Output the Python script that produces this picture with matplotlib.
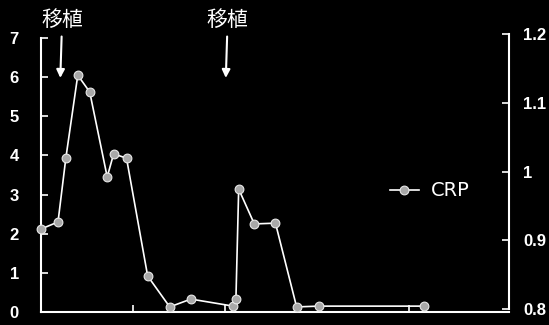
import matplotlib.pyplot as plt

plt.rcParams['font.family'] = ['Liberation Sans', 'DejaVu Sans']

# 日数と CRP 値（左軸）
days = [0, 1.85, 2.7, 4.0, 5.3, 7.2, 7.9, 9.3, 11.6, 14.0, 16.3,
        20.9, 21.2, 21.5, 23.2, 25.5, 27.8, 30.2, 41.7]
crp = [2.12, 2.30, 3.93, 6.05, 5.62, 3.45, 4.04, 3.93, 0.92, 0.13, 0.33,
       0.15, 0.33, 3.14, 2.25, 2.27, 0.13, 0.15, 0.15]

left_ticks = [0, 1, 2, 3, 4, 5, 6, 7]
right_ticks = [0.8, 0.9, 1.0, 1.1, 1.2]
right_labels = ['0.8', '0.9', '1', '1.1', '1.2']
x_ticks = [10, 20, 40]
transplant_days = [2.1, 20.1]
transplant_label = '移植'

W, H = 549, 325
fig = plt.figure(figsize=(W / 100, H / 100), dpi=100, facecolor='black')

# 左軸
ax = fig.add_axes([41 / W, 13 / H, 468 / W, 274 / H])
ax.set_facecolor('black')
ax.plot(days, crp, color='white', lw=1.2, marker='o', ms=6.3,
        mfc='#a8a8a8', mec='#e8e8e8', mew=0.8, label='CRP', clip_on=False, zorder=3)
ax.set_xlim(0, 50.9)
ax.set_ylim(0, 7)
ax.set_yticks(left_ticks)
ax.set_xticks(x_ticks)
ax.set_xticklabels([])
for s in ['top', 'right']:
    ax.spines[s].set_visible(False)
for s in ['left', 'bottom']:
    ax.spines[s].set_color('white')
    ax.spines[s].set_linewidth(1.5)
ax.tick_params(axis='y', direction='in', colors='white', labelsize=12, length=5, width=1.2, pad=16)
ax.tick_params(axis='x', direction='in', colors='white', length=5, width=1.2)
for t in ax.get_yticklabels():
    t.set_fontweight('bold')

# 右軸
ax2 = fig.add_axes([41 / W, 16 / H, 468 / W, 275 / H])
ax2.patch.set_visible(False)
ax2.set_ylim(0.8, 1.2)
ax2.set_yticks(right_ticks)
ax2.set_yticklabels(right_labels, fontweight='bold')
ax2.set_xticks([])
ax2.yaxis.tick_right()
for s in ['top', 'left', 'bottom']:
    ax2.spines[s].set_visible(False)
ax2.spines['right'].set_color('white')
ax2.spines['right'].set_linewidth(1.5)
ax2.tick_params(axis='y', direction='in', colors='white', labelsize=12, length=5, width=1.2, pad=10)

# 移植の矢印
for d in transplant_days:
    ax.annotate(transplant_label, xy=(d, 5.98), xytext=(d + 0.2, 7.18),
                ha='center', va='bottom', color='white', fontsize=15,
                family=['Noto Sans CJK JP', 'DejaVu Sans'],
                arrowprops=dict(arrowstyle='-|>', color='white', lw=1.5,
                                mutation_scale=12, shrinkA=2, shrinkB=0),
                annotation_clip=False)

leg = ax.legend(loc='center left', bbox_to_anchor=(380 / W, 1 - 191 / H),
                bbox_transform=fig.transFigure, frameon=False, handlelength=1.5,
                borderpad=0, handletextpad=0.6, labelcolor='white',
                prop={'family': 'DejaVu Sans', 'size': 14})

fig.savefig('out.png', dpi=100, facecolor='black')
